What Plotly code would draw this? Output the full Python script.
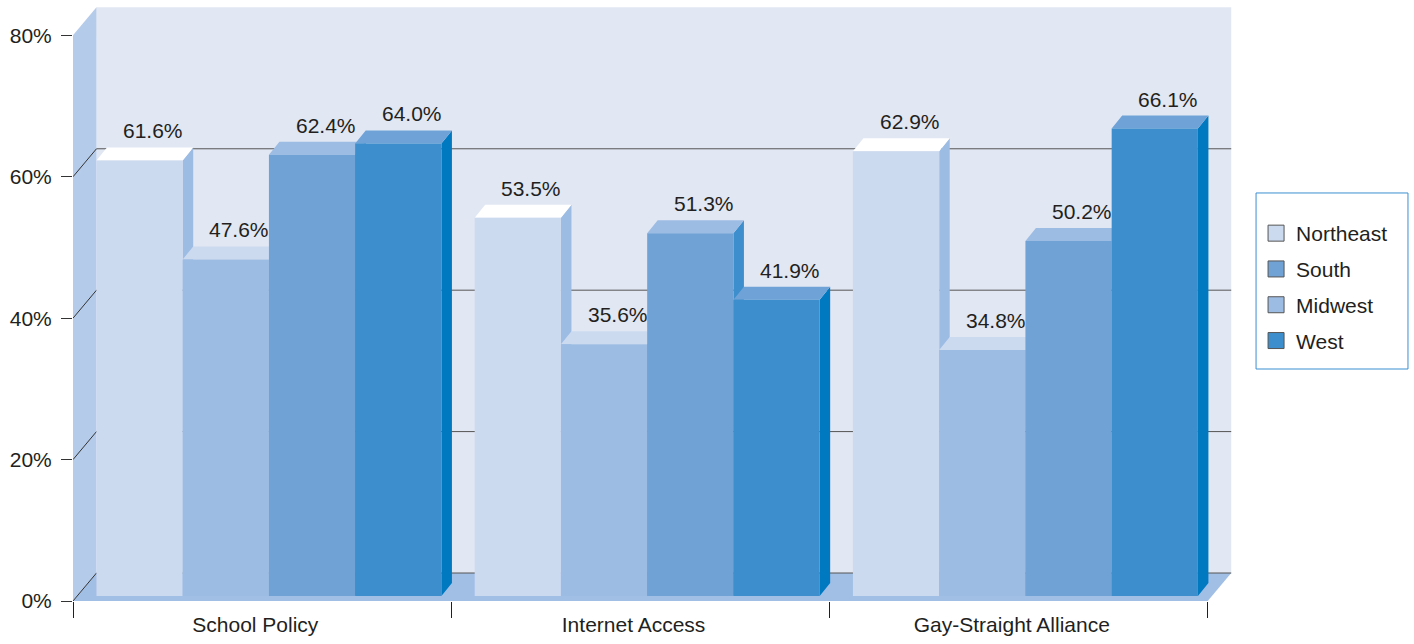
import plotly.graph_objects as go

# Survey results by region
categories = ["School Policy", "Internet Access", "Gay-Straight Alliance"]
regions = ["Northeast", "Midwest", "South", "West"]          # bar order inside a group
northeast = [61.6, 53.5, 62.9]
midwest = [47.6, 35.6, 34.8]
south = [62.4, 51.3, 50.2]
west = [64.0, 41.9, 66.1]
series = [northeast, midwest, south, west]
legend_order = ["Northeast", "South", "Midwest", "West"]
y_ticks = [0, 20, 40, 60, 80]
y_tick_text = ["0%", "20%", "40%", "60%", "80%"]

# face colours per region: front, top, side
face_colors = {
    "Northeast": ("#CCDAF0", "#FFFFFF", "#9DBCE3"),
    "Midwest": ("#9DBCE3", "#CCDAF0", "#70A2D6"),
    "South": ("#70A2D6", "#9DBCE3", "#3D8ECC"),
    "West": ("#3D8ECC", "#6FA3D8", "#0079C1"),
}

# geometry of the pseudo-3D box (data units)
BOX_DX, BOX_DY = 0.0621, 3.96       # depth of the chart box
BAR_DX, BAR_DY = 0.0278, 1.84       # depth of each bar
BAR_W = 0.228
GROUP_START = -0.438
BAR_BASE = 0.71
X_MIN, X_MAX = -0.5, 2.5
Y_TOP = 80

TEXT = "#231F20"
FONT = "Liberation Sans, Arial, sans-serif"

fig = go.Figure()


def poly(points_list):
    xs, ys = [], []
    for pts in points_list:
        for px, py in pts:
            xs.append(px)
            ys.append(py)
        xs.append(None)
        ys.append(None)
    return xs, ys


def add_faces(pts_list, color, name):
    xs, ys = poly(pts_list)
    fig.add_trace(go.Scatter(
        x=xs, y=ys, mode="lines", fill="toself", fillcolor=color,
        line=dict(width=0, color=color), hoverinfo="skip",
        showlegend=False, name=name,
    ))


annotations = []
for k, (region, values) in enumerate(zip(regions, series)):
    front_c, top_c, side_c = face_colors[region]
    sides, tops, fronts = [], [], []
    for i, v in enumerate(values):
        x0 = i + GROUP_START + k * BAR_W
        x1 = x0 + BAR_W
        b = BAR_BASE
        t = BAR_BASE + v
        sides.append([(x1, b), (x1 + BAR_DX, b + BAR_DY), (x1 + BAR_DX, t + BAR_DY), (x1, t)])
        tops.append([(x0, t), (x1, t), (x1 + BAR_DX, t + BAR_DY), (x0 + BAR_DX, t + BAR_DY)])
        fronts.append([(x0, b), (x1, b), (x1, t), (x0, t)])
        annotations.append(dict(
            x=(x0 + x1) / 2 + BAR_DX + 0.008, y=t + BAR_DY, xref="x", yref="y",
            text=f"{v:.1f}%", showarrow=False, yanchor="bottom", yshift=3,
            font=dict(family=FONT, size=21, color=TEXT),
        ))
    add_faces(sides, side_c, region)
    add_faces(tops, top_c, region)
    add_faces(fronts, front_c, region)

# legend entries
for region in legend_order:
    fig.add_trace(go.Scatter(
        x=[None], y=[None], mode="markers", name=region, legendgroup=region,
        marker=dict(symbol="square", size=17, color=face_colors[region][0],
                    line=dict(color="#555555", width=1)),
    ))

# box walls, floor and gridlines
shapes = []
wall_back = f"M {X_MIN + BOX_DX},{BOX_DY} L {X_MAX + BOX_DX},{BOX_DY} L {X_MAX + BOX_DX},{Y_TOP + BOX_DY} L {X_MIN + BOX_DX},{Y_TOP + BOX_DY} Z"
wall_left = f"M {X_MIN},0 L {X_MIN},{Y_TOP} L {X_MIN + BOX_DX},{Y_TOP + BOX_DY} L {X_MIN + BOX_DX},{BOX_DY} Z"
floor = f"M {X_MIN},0 L {X_MAX},0 L {X_MAX + BOX_DX},{BOX_DY} L {X_MIN + BOX_DX},{BOX_DY} Z"
shapes.append(dict(type="path", path=wall_back, xref="x", yref="y", fillcolor="#E1E7F3", line=dict(width=0), layer="below"))
shapes.append(dict(type="path", path=wall_left, xref="x", yref="y", fillcolor="#B5CBEA", line=dict(width=0), layer="below"))
shapes.append(dict(type="path", path=floor, xref="x", yref="y", fillcolor="#A1BEE5", line=dict(width=0), layer="below"))
for v in y_ticks[:-1]:
    shapes.append(dict(type="line", xref="x", yref="y", x0=X_MIN + BOX_DX, x1=X_MAX + BOX_DX,
                       y0=v + BOX_DY, y1=v + BOX_DY, line=dict(color="#555555", width=1), layer="below"))
    shapes.append(dict(type="line", xref="x", yref="y", x0=X_MIN, x1=X_MIN + BOX_DX,
                       y0=v, y1=v + BOX_DY, line=dict(color="#333333", width=1), layer="below"))

# legend frame
shapes.append(dict(type="rect", xref="paper", yref="paper",
                   x0=1.0155, x1=1.1459, y0=0.3860, y1=0.6789,
                   fillcolor="white", line=dict(color="#3B8FD0", width=1), layer="below"))

fig.update_layout(
    width=1414, height=644,
    margin=dict(l=73, r=176, t=0, b=43),
    paper_bgcolor="white", plot_bgcolor="white",
    shapes=shapes, annotations=annotations,
    showlegend=True,
    legend=dict(
        x=1.0155, y=0.6456, xanchor="left", yanchor="top",
        bgcolor="rgba(0,0,0,0)", borderwidth=0,
        font=dict(family=FONT, size=21, color=TEXT),
        tracegroupgap=5.5, traceorder="grouped",
    ),
    xaxis=dict(
        range=[-0.5, 2.58], showgrid=False, zeroline=False, showline=False,
        tickmode="array", tickvals=[i - 0.018 for i in range(len(categories))],
        ticktext=categories, ticks="",
        ticklabelstandoff=9,
        tickfont=dict(family=FONT, size=21, color=TEXT),
        minor=dict(tick0=-0.5, dtick=1, ticks="outside", ticklen=16, tickwidth=1, tickcolor="#231F20"),
        fixedrange=True,
    ),
    yaxis=dict(
        range=[0, 85], showgrid=False, zeroline=False, showline=False,
        tickmode="array", tickvals=y_ticks, ticktext=y_tick_text,
        ticks="outside", ticklen=11, tickwidth=1, tickcolor="#333333",
        ticklabelstandoff=5,
        tickfont=dict(family=FONT, size=21, color=TEXT),
        fixedrange=True,
    ),
)

fig.write_html("out.html")
